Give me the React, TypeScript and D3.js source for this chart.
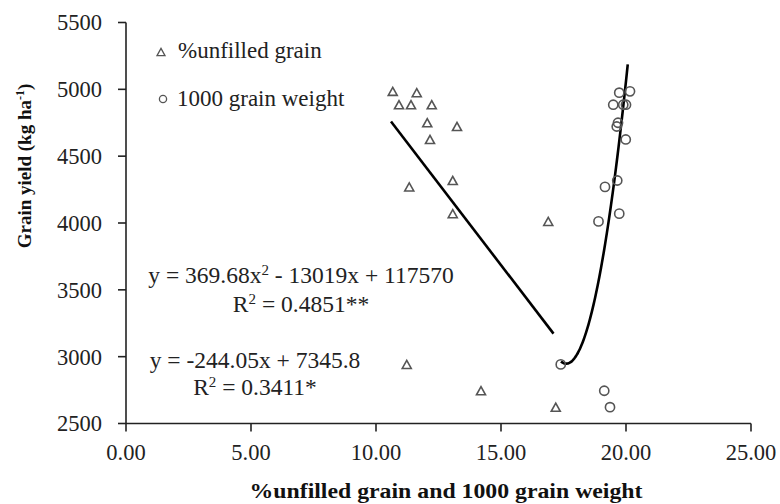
import React from "react";
import * as d3 from "d3";

// Grain yield of each plot (kg/ha), shared by both predictors
const grainYield = [4985, 4975, 4885, 4885, 4885, 4750, 4722, 4625, 4270, 4318, 4070, 4012, 2942, 2745, 2622];
// % unfilled grain of each plot
const unfilledGrain = [10.67, 11.63, 10.92, 11.4, 12.23, 12.05, 13.24, 12.16, 11.33, 13.07, 13.07, 16.89, 11.23, 14.2, 17.19];
// 1000 grain weight (g) of each plot
const grainWeight = [20.16, 19.73, 19.49, 19.89, 20.0, 19.68, 19.63, 19.99, 19.16, 19.65, 19.73, 18.9, 17.39, 19.13, 19.36];

const xTicks = [0, 5, 10, 15, 20, 25];
const yTicks = [2500, 3000, 3500, 4000, 4500, 5000, 5500];

// Fitted trend lines
const linearFit = { slope: -244.05, intercept: 7345.8, from: 10.6, to: 17.1 };
const quadFit = { a: 369.68, b: -13019, c: 117570, from: 17.4, to: 20.07 };

const W = 780;
const H = 504;
const margin = { left: 126, right: 29, top: 22.5, bottom: 80.5 };

const serif = "'Liberation Serif', 'Times New Roman', serif";
const markerStroke = "#555";
const textColor = "#222";

export default function App() {
  const x = d3.scaleLinear().domain([0, 25]).range([margin.left, W - margin.right]);
  const y = d3.scaleLinear().domain([2500, 5500]).range([H - margin.bottom, margin.top]);

  const linePath = d3.line<number>()
    .x((d) => x(d))
    .y((d) => y(linearFit.slope * d + linearFit.intercept))([linearFit.from, linearFit.to]);

  const quadXs = d3.range(0, 81).map((i) => quadFit.from + ((quadFit.to - quadFit.from) * i) / 80);
  const quadPath = d3.line<number>()
    .x((d) => x(d))
    .y((d) => y(quadFit.a * d * d + quadFit.b * d + quadFit.c))
    .curve(d3.curveMonotoneX)(quadXs);

  const tri = (cx: number, cy: number, s: number) => {
    const h = s * 0.9;
    return `M${cx},${cy - h / 2}L${cx + s / 2},${cy + h / 2}L${cx - s / 2},${cy + h / 2}Z`;
  };

  const x0 = x(0);
  const yBase = y(2500);

  return (
    <svg width={W} height={H} style={{ position: "absolute", left: 0, top: 0, background: "#fff" }}
      fontFamily={serif}>
      <rect width={W} height={H} fill="#fff" />

      {/* axes */}
      <line x1={x0} x2={x0} y1={y(5500)} y2={yBase} stroke="#222" strokeWidth={1.6} />
      <line x1={x0} x2={x(25)} y1={yBase} y2={yBase} stroke="#222" strokeWidth={1.6} />
      {yTicks.map((t) => (
        <g key={"y" + t}>
          <line x1={x0 - 8} x2={x0} y1={y(t)} y2={y(t)} stroke="#222" strokeWidth={1.6} />
          <text x={x0 - 24} y={y(t)} dy="0.35em" textAnchor="end" fontSize={22.5} fill={textColor}>{t}</text>
        </g>
      ))}
      {xTicks.map((t) => (
        <g key={"x" + t}>
          <line x1={x(t)} x2={x(t)} y1={yBase} y2={yBase + 8} stroke="#222" strokeWidth={1.6} />
          <text x={x(t)} y={yBase + 36} textAnchor="middle" fontSize={22.5} fill={textColor}>{t.toFixed(2)}</text>
        </g>
      ))}

      {/* axis titles */}
      <text x={446} y={498} textAnchor="middle" fontSize={20} fontWeight="bold" fill="#111"
        textLength={393} lengthAdjust="spacingAndGlyphs">
        %unfilled grain and 1000 grain weight
      </text>
      <text transform={`translate(31,166) rotate(-90)`} textAnchor="middle"
        fontSize={19} fontWeight="bold" fill="#111">
        Grain yield (kg ha<tspan dy="-7" fontSize={12}>-1</tspan><tspan dy="7">)</tspan>
      </text>

      {/* trend lines */}
      <path d={linePath ?? ""} fill="none" stroke="#000" strokeWidth={2.6} />
      <path d={quadPath ?? ""} fill="none" stroke="#000" strokeWidth={2.6} />

      {/* points */}
      {unfilledGrain.map((v, i) => (
        <path key={"t" + i} d={tri(x(v), y(grainYield[i]), 9)} fill="none" stroke={markerStroke} strokeWidth={1.6} />
      ))}
      {grainWeight.map((v, i) => (
        <circle key={"c" + i} cx={x(v)} cy={y(grainYield[i])} r={4.6} fill="none" stroke={markerStroke} strokeWidth={1.6} />
      ))}

      {/* legend */}
      <path d={tri(161, 52, 8)} fill="none" stroke={markerStroke} strokeWidth={1.3} />
      <text x={178} y={58} fontSize={23} fill={textColor}>%unfilled grain</text>
      <circle cx={163} cy={99} r={3.6} fill="none" stroke={markerStroke} strokeWidth={1.3} />
      <text x={177} y={106} fontSize={23} fill={textColor}>1000 grain weight</text>

      {/* equations */}
      <text x={301} y={283} textAnchor="middle" fontSize={23.5} fill={textColor}>
        y = 369.68x<tspan dy="-8" fontSize={15}>2</tspan><tspan dy="8"> - 13019x + 117570</tspan>
      </text>
      <text x={301} y={312} textAnchor="middle" fontSize={23.5} fill={textColor}>
        R<tspan dy="-8" fontSize={15}>2</tspan><tspan dy="8"> = 0.4851**</tspan>
      </text>
      <text x={255} y={368} textAnchor="middle" fontSize={23.5} fill={textColor}>
        y = -244.05x + 7345.8
      </text>
      <text x={255} y={395} textAnchor="middle" fontSize={23.5} fill={textColor}>
        R<tspan dy="-8" fontSize={15}>2</tspan><tspan dy="8"> = 0.3411*</tspan>
      </text>
    </svg>
  );
}
